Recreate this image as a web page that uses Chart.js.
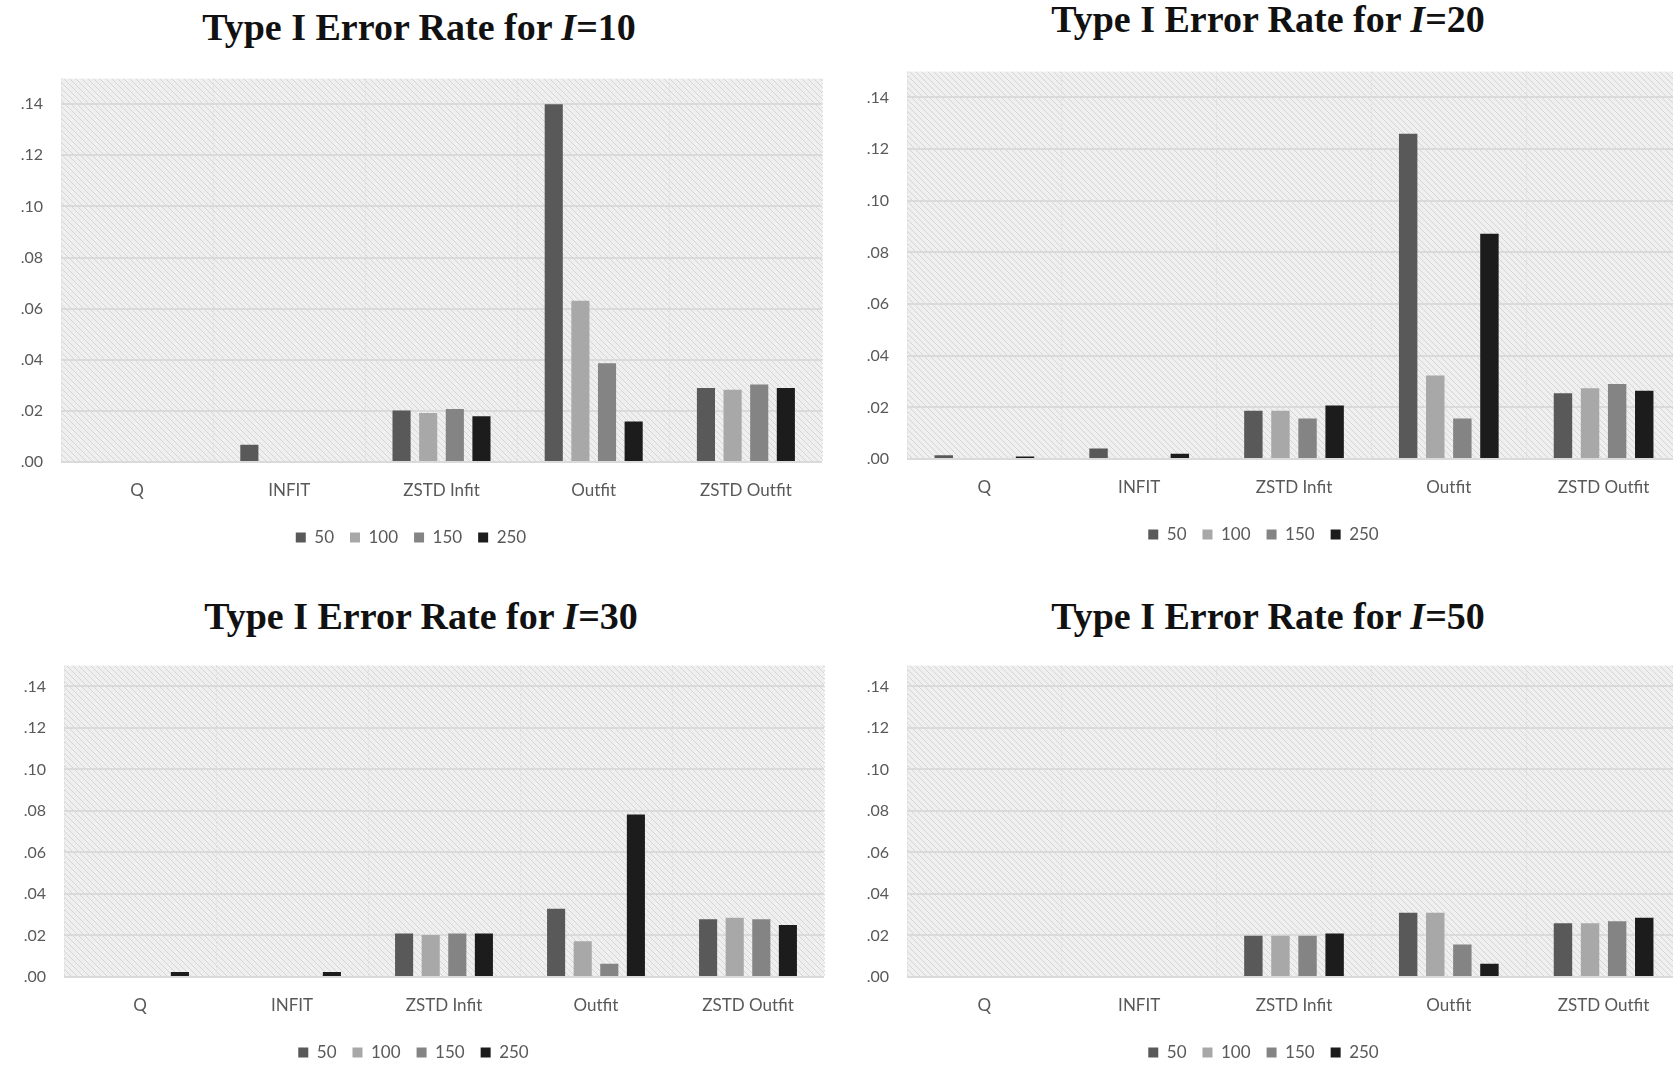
<!DOCTYPE html>
<html lang="en">
<head>
<meta charset="UTF-8">
<title>Type I Error Rate</title>
<script src="https://cdn.jsdelivr.net/npm/chart.js"></script>
<style>
  body { margin: 0; width: 1673px; height: 1067px; overflow: hidden; background: #fff; position: relative; }
  .ttl { position: absolute; text-align: center; font: bold 38px "Liberation Serif", "Times New Roman", serif; line-height: 38px; color: #111; white-space: nowrap; }
  .box { position: absolute; }
</style>
</head>
<body>
<div class="ttl" style="left:0;top:8px;width:838px">Type I Error Rate for <i>I</i>=10</div>
<div class="ttl" style="left:846px;top:0;width:844px">Type I Error Rate for <i>I</i>=20</div>
<div class="ttl" style="left:0;top:597px;width:842px">Type I Error Rate for <i>I</i>=30</div>
<div class="ttl" style="left:846px;top:597px;width:844px">Type I Error Rate for <i>I</i>=50</div>

<div class="box" style="left:0;top:51px;width:830px;height:505px"><canvas id="c10"></canvas></div>
<div class="box" style="left:846px;top:44px;width:843px;height:509px"><canvas id="c20"></canvas></div>
<div class="box" style="left:3px;top:638px;width:829px;height:433px"><canvas id="c30"></canvas></div>
<div class="box" style="left:846px;top:638px;width:843px;height:433px"><canvas id="c50"></canvas></div>

<script>
const categories = ['Q', 'INFIT', 'ZSTD Infit', 'Outfit', 'ZSTD Outfit'];
const sampleSizes = ['50', '100', '150', '250'];
const yMax = 0.15;
const yStep = 0.02;

// I=10
const i10_n50  = [0, 0.0067, 0.0201, 0.140, 0.0290];
const i10_n100 = [0, 0, 0.0192, 0.0631, 0.0283];
const i10_n150 = [0, 0, 0.0207, 0.0386, 0.0303];
const i10_n250 = [0, 0, 0.0179, 0.0158, 0.0290];
// I=20
const i20_n50  = [0.0015, 0.0041, 0.0187, 0.1259, 0.0255];
const i20_n100 = [0, 0, 0.0187, 0.0323, 0.0274];
const i20_n150 = [0, 0, 0.0157, 0.0157, 0.0290];
const i20_n250 = [0.0010, 0.0020, 0.0207, 0.0872, 0.0264];
// I=30
const i30_n50  = [0, 0, 0.0210, 0.0329, 0.0278];
const i30_n100 = [0, 0, 0.0202, 0.0172, 0.0285];
const i30_n150 = [0, 0, 0.0210, 0.0064, 0.0278];
const i30_n250 = [0.0024, 0.0024, 0.0210, 0.0783, 0.0251];
// I=50
const i50_n50  = [0, 0, 0.0199, 0.0310, 0.0259];
const i50_n100 = [0, 0, 0.0199, 0.0310, 0.0259];
const i50_n150 = [0, 0, 0.0199, 0.0157, 0.0269];
const i50_n250 = [0, 0, 0.0210, 0.0064, 0.0286];

const barColors = ['#595959', '#a8a8a8', '#848484', '#1c1c1c'];

// diagonal hatch for the plot area
function hatch() {
  const s = 6;
  const c = document.createElement('canvas');
  c.width = s; c.height = s;
  const g = c.getContext('2d');
  g.fillStyle = '#efefef';
  g.fillRect(0, 0, s, s);
  g.strokeStyle = '#d5d5d5';
  g.lineWidth = 1;
  g.beginPath();
  g.moveTo(-1, -1); g.lineTo(s + 1, s + 1);
  g.moveTo(-1, s - 1); g.lineTo(1, s + 1);
  g.moveTo(s - 1, -1); g.lineTo(s + 1, 1);
  g.stroke();
  return g.createPattern(c, 'repeat');
}

const plotBg = {
  id: 'plotBg',
  beforeDraw(chart) {
    const a = chart.chartArea;
    const ctx = chart.ctx;
    ctx.save();
    ctx.fillStyle = hatch();
    ctx.fillRect(a.left, a.top, a.right - a.left, a.bottom - a.top);
    ctx.restore();
  }
};

const font = 'Lato, "Open Sans", sans-serif';

function makeChart(id, series) {
  new Chart(document.getElementById(id), {
    type: 'bar',
    data: {
      labels: categories,
      datasets: series.map((d, i) => ({
        label: sampleSizes[i],
        data: d,
        backgroundColor: barColors[i],
        borderWidth: 0,
        categoryPercentage: 0.7,
        barPercentage: 0.68
      }))
    },
    options: {
      responsive: true,
      maintainAspectRatio: false,
      animation: false,
      layout: { padding: { top: 10, right: 8, left: 0, bottom: 0 } },
      plugins: {
        tooltip: { enabled: false },
        legend: {
          position: 'bottom',
          labels: { boxWidth: 10, boxHeight: 10, padding: 16, color: '#595959', font: { family: font, size: 17 } }
        }
      },
      scales: {
        x: {
          grid: { color: '#dedede', lineWidth: 1, drawTicks: false },
          border: { display: false, dash: [2, 2] },
          ticks: { padding: 18, color: '#595959', font: { family: font, size: 17 } },
          afterFit(scale) { scale.height = 51; }
        },
        y: {
          min: 0,
          max: yMax,
          grid: { color: '#dadada', lineWidth: 2, drawTicks: false },
          border: { display: false },
          ticks: {
            stepSize: yStep,
            includeBounds: false,
            padding: 18,
            color: '#595959',
            font: { family: font, size: 16 },
            callback: v => v.toFixed(2).replace('0.', '.')
          },
          afterFit(scale) { scale.width = 61; }
        }
      }
    },
    plugins: [plotBg]
  });
}

makeChart('c10', [i10_n50, i10_n100, i10_n150, i10_n250]);
makeChart('c20', [i20_n50, i20_n100, i20_n150, i20_n250]);
makeChart('c30', [i30_n50, i30_n100, i30_n150, i30_n250]);
makeChart('c50', [i50_n50, i50_n100, i50_n150, i50_n250]);
</script>
</body>
</html>
